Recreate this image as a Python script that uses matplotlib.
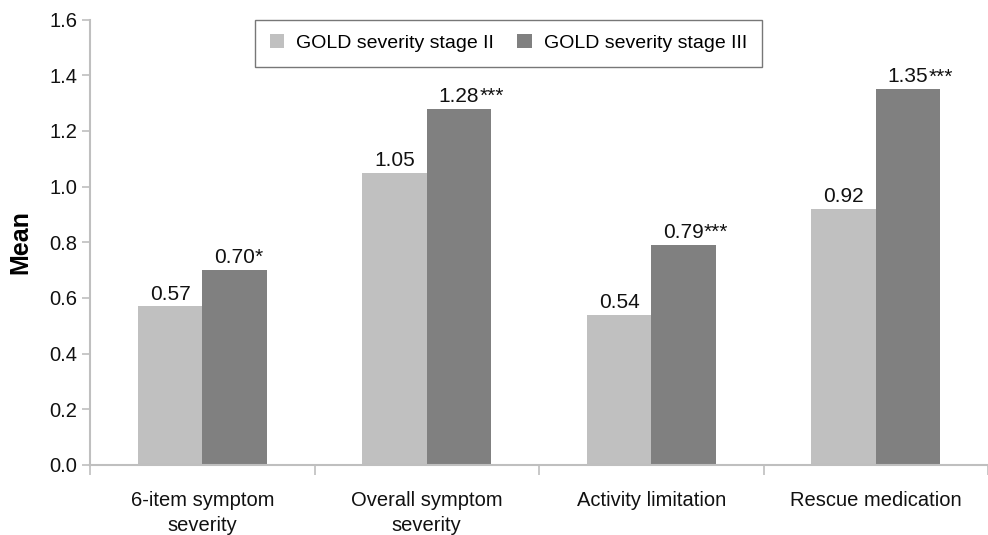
import matplotlib
matplotlib.use("Agg")
import matplotlib.pyplot as plt
import numpy as np

categories = ["6-item symptom\nseverity", "Overall symptom\nseverity", "Activity limitation", "Rescue medication"]
series_names = ["GOLD severity stage II", "GOLD severity stage III"]
stage2 = [0.57, 1.05, 0.54, 0.92]
stage3 = [0.70, 1.28, 0.79, 1.35]
stage2_sig = ["", "", "", ""]
stage3_sig = ["*", "***", "***", "***"]
yticks = [0.0, 0.2, 0.4, 0.6, 0.8, 1.0, 1.2, 1.4, 1.6]

plt.rcParams['font.family'] = ['Liberation Sans', 'DejaVu Sans']

W, H = 988, 535
fig = plt.figure(figsize=(W / 100, H / 100), dpi=100)
left, right, bottom, top = 90, 988, 465, 19.5
ax = fig.add_axes([left / W, (H - bottom) / H, (right - left) / W, (bottom - top) / H])

c_light = "#c0c0c0"
c_dark = "#808080"
axis_c = "#bfbfbf"
txt_c = "#111111"
bw = 65 / 227
x = np.arange(len(categories))
b1 = ax.bar(x - bw / 2, stage2, bw, color=c_light, label=series_names[0], zorder=2)
b2 = ax.bar(x + bw / 2, stage3, bw, color=c_dark, label=series_names[1], zorder=2)

fs_lab = 15
for bars, vals, sigs in [(b1, stage2, stage2_sig), (b2, stage3, stage3_sig)]:
    for rect, v, s in zip(bars, vals, sigs):
        cx = rect.get_x() + rect.get_width() / 2
        t = ax.annotate(f"{v:.2f}", (cx, v), xytext=(0, 2), textcoords="offset points",
                        ha="center", va="bottom", fontsize=fs_lab, color=txt_c)
        if s:
            ax.annotate(s, xy=(1, 0), xycoords=t, ha="left", va="bottom",
                        fontsize=fs_lab, color=txt_c)

ax.set_ylim(0, 1.6)
ax.set_xlim(-0.5, 3.5 - 10 / 227)
ax.set_yticks(yticks)
ax.set_yticklabels([f"{v:.1f}" for v in yticks], fontsize=14.5, color=txt_c)
ax.set_xticks(x)
ax.set_xticklabels(categories, fontsize=14.5, color=txt_c, linespacing=1.35)
ax.tick_params(axis="x", length=0, pad=19)
ax.set_xticks(np.arange(len(categories) + 1) - 0.5, minor=True)
ax.tick_params(axis="x", which="minor", length=7, color=axis_c, width=1.2)
ax.tick_params(axis="y", length=6, color=axis_c, width=1.2, pad=3)

for s in ["top", "right"]:
    ax.spines[s].set_visible(False)
for s in ["left", "bottom"]:
    ax.spines[s].set_color(axis_c)
    ax.spines[s].set_linewidth(1.5)

ax.set_ylabel("Mean", fontsize=18, fontweight="bold")
ax.yaxis.set_label_coords((32 - left) / (right - left), 0.5)

leg = ax.legend(loc="upper left", bbox_to_anchor=((255 - left) / (right - left), 1.0),
                ncol=2, fontsize=14, frameon=True, fancybox=False, handlelength=0.75,
                handleheight=0.75, handletextpad=0.62, columnspacing=1.2,
                borderpad=0.75, borderaxespad=0, edgecolor="#555555")
leg.get_frame().set_linewidth(1.0)

fig.savefig("out.png", dpi=100)
